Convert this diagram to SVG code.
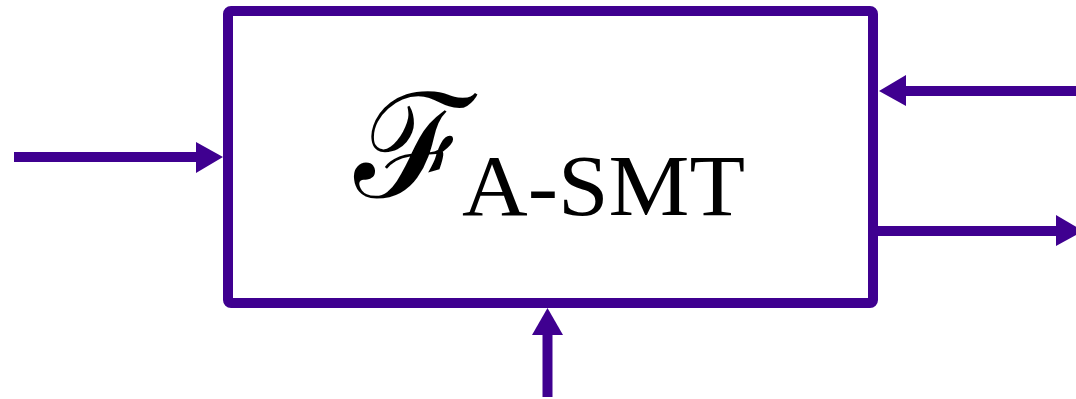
<svg xmlns="http://www.w3.org/2000/svg" width="1076" height="399" viewBox="0 0 1076 399">
<style>
.edge{stroke:#3F0090;stroke-width:10;fill:none}
.head{fill:#3F0090}
.box{fill:#fff;stroke:#3F0090;stroke-width:10;stroke-linejoin:round}
.sym{font-family:"DejaVu Serif","Noto Sans",serif;font-style:italic;font-size:145px;fill:#000}
.sub{font-family:"Liberation Serif",serif;font-size:86px;fill:#000}
</style>
<g id="node-fasmt">
<rect class="box" x="228" y="11" width="645" height="292" rx="3"/>
<text class="sym" x="351" y="197">ℱ</text>
<text class="sub" x="462" y="215" textLength="283" lengthAdjust="spacingAndGlyphs">A-SMT</text>
</g>
<g id="connectors">
<line class="edge" x1="14" y1="157" x2="200" y2="157"/>
<polygon class="head" points="196,142 223,157 196,173"/>
<line class="edge" x1="1076" y1="91" x2="902" y2="91"/>
<polygon class="head" points="906,75 879,91 906,106"/>
<line class="edge" x1="873" y1="231" x2="1060" y2="231"/>
<polygon class="head" points="1056,215 1083,231 1056,246"/>
<line class="edge" x1="547.5" y1="397" x2="547.5" y2="331"/>
<polygon class="head" points="532,335 547.5,308 563,335"/>
</g>
</svg>
